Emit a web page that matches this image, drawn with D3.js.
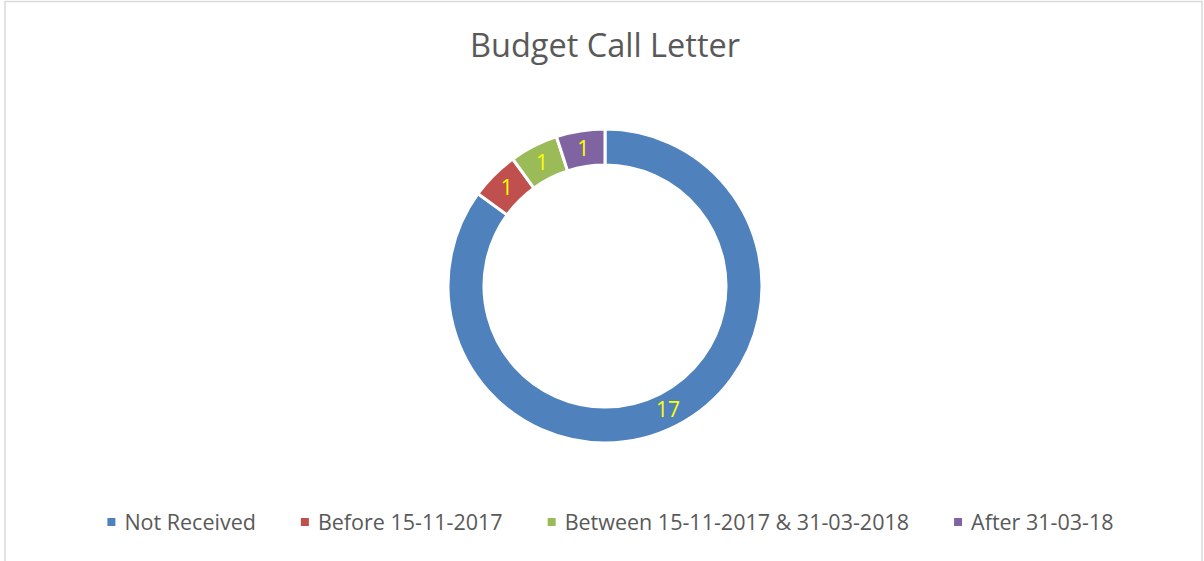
<!DOCTYPE html>
<html>
<head>
    <meta charset="utf-8">
    <title>Budget Call Letter</title>
    <script src="https://d3js.org/d3.v7.min.js"></script>
    <style>
        body { margin: 0; padding: 0; background: #fff; }
        text { font-family: "Open Sans", sans-serif; }
    </style>
</head>
<body>
    <svg width="1204" height="561"></svg>
    <script>
        // chart data
        const categories = ["Not Received", "Before 15-11-2017", "Between 15-11-2017 & 31-03-2018", "After 31-03-18"];
        const counts = [17, 1, 1, 1];
        const colours = ["#4F81BD", "#C0504D", "#9BBB59", "#8064A2"];

        const width = 1204, height = 561;
        const svg = d3.select("svg");

        // chart area border
        svg.append("rect")
            .attr("x", 5).attr("y", 1.5)
            .attr("width", 1197).attr("height", 600)
            .attr("fill", "none")
            .attr("stroke", "#d9d9d9")
            .attr("stroke-width", 1.5);

        svg.append("text")
            .attr("x", 605).attr("y", 57)
            .attr("text-anchor", "middle")
            .attr("font-size", 32.5)
            .attr("fill", "#595959")
            .text("Budget Call Letter");

        const data = categories.map((c, i) => ({ name: c, value: counts[i], colour: colours[i] }));

        const pie = d3.pie().sort(null).value(d => d.value);
        const arc = d3.arc().innerRadius(121).outerRadius(157);

        const g = svg.append("g").attr("transform", "translate(605, 286)");

        g.selectAll("path").data(pie(data))
            .enter().append("path")
            .attr("d", arc)
            .attr("fill", d => d.data.colour)
            .attr("stroke", "#fff")
            .attr("stroke-width", 3);

        g.selectAll("text.lbl").data(pie(data))
            .enter().append("text")
            .attr("class", "lbl")
            .attr("transform", d => `translate(${arc.centroid(d)})`)
            .attr("text-anchor", "middle")
            .attr("dy", "0.36em")
            .attr("font-size", 21)
            .attr("fill", "#FFFF00")
            .text(d => d.data.value);

        // legend
        const legend = svg.append("g").attr("transform", "translate(0, 522)");
        const items = legend.selectAll("g").data(data).enter().append("g");
        items.append("rect")
            .attr("width", 8).attr("height", 8)
            .attr("y", -4)
            .attr("fill", d => d.colour);
        items.append("text")
            .attr("x", 17)
            .attr("dy", "0.35em")
            .attr("font-size", 21.5)
            .attr("fill", "#595959")
            .text(d => d.name);

        const gap = 45;
        let widths = [];
        items.each(function () { widths.push(17 + d3.select(this).select("text").node().getComputedTextLength()); });
        const total = d3.sum(widths) + gap * (widths.length - 1);
        let x = 610.5 - total / 2;
        items.each(function (d, i) {
            d3.select(this).attr("transform", `translate(${x}, 0)`);
            x += widths[i] + gap;
        });
    </script>
</body>
</html>
